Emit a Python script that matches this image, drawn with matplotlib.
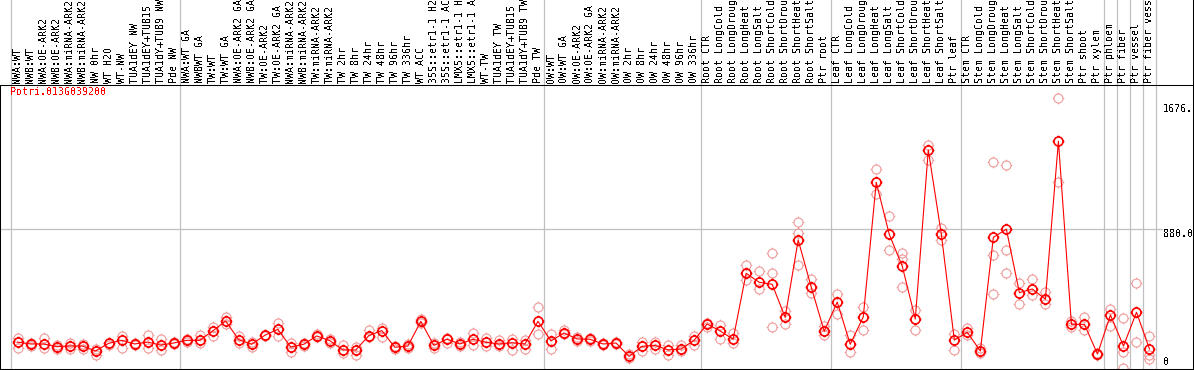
import numpy as np
import matplotlib.pyplot as plt
from matplotlib.path import Path
import matplotlib.transforms as mtransforms

# crisp, pixel-like text as in the original
plt.rcParams['text.antialiased'] = False

# gene shown in the chart
gene = "Potri.013G039200"

# sample names, left to right
samples = [
    "NWA:WT", "NWB:WT", "NWA:OE-ARK2", "NWB:OE-ARK2", "NWA:miRNA-ARK2", "NWB:miRNA-ARK2",
    "NW 0hr", "WT H2O", "WT-NW", "TUA1dEY NW", "TUA1dEY+TUB15 NW", "TUA1dY+TUB9 NW", "Pde NW",
    "NWA:WT GA", "NWBWT GA", "TW:WT", "TW:WT GA", "NWA:OE-ARK2 GA", "NWB:OE-ARK2 GA",
    "TW:OE-ARK2", "TW:OE-ARK2 GA", "NWA:miRNA-ARK2", "NWB:miRNA-ARK2", "TW:miRNA-ARK2",
    "TW:miRNA-ARK2", "TW 2hr", "TW 8hr", "TW 24hr", "TW 48hr", "TW 96hr", "TW 336hr", "WT ACC",
    "35S::etr1-1 H2O", "35S::etr1-1 ACC", "LMX5::etr1-1 H2O", "LMX5::etr1-1 ACC", "WT-TW",
    "TUA1dEY TW", "TUA1dEY+TUB15 TW", "TUA1dY+TUB9 TW", "Pde TW",
    "OW:WT", "OW:WT GA", "OW:OE-ARK2", "OW:OE-ARK2 GA", "OW:miRNA-ARK2", "OW:miRNA-ARK2",
    "OW 2hr", "OW 8hr", "OW 24hr", "OW 48hr", "OW 96hr", "OW 336hr",
    "Root CTR", "Root LongCold", "Root LongDrought", "Root LongHeat", "Root LongSalt",
    "Root ShortCold", "Root ShortDrought", "Root ShortHeat", "Root ShortSalt", "Ptr root",
    "Leaf CTR", "Leaf LongCold", "Leaf LongDrought", "Leaf LongHeat", "Leaf LongSalt",
    "Leaf ShortCold", "Leaf ShortDrought", "Leaf ShortHeat", "Leaf ShortSalt", "Ptr leaf",
    "Stem CTR", "Stem LongCold", "Stem LongDrought", "Stem LongHeat", "Stem LongSalt",
    "Stem ShortCold", "Stem ShortDrought", "Stem ShortHeat", "Stem ShortSalt", "Ptr shoot",
    "Ptr xylem", "Ptr phloem", "Ptr fiber", "Ptr vessel", "Ptr fiber vessel",
]

# mean expression per sample
means = [
    160, 148, 148, 131, 135, 135, 103, 152, 171, 148, 160, 141, 154,
    171, 171, 231, 294, 175, 146, 203, 241, 129, 146, 199, 169, 110, 110, 201,
    233, 127, 135, 292, 139, 178, 148, 178, 159, 148, 156, 148, 292,
    167, 218, 180, 178, 148, 154, 69, 133, 139, 110, 116, 171,
    275, 231, 178, 598, 541, 528, 318, 810, 511, 229,
    415, 146, 320, 1178, 846, 643, 307, 1383, 848, 173,
    222, 103, 827, 879, 475, 498, 433, 1439, 273, 273, 84,
    332, 135, 350, 116,
]

# individual replicates per sample
replicates = [
    [184, 120], [156, 137], [184, 120], [139, 116], [152, 116], [148, 116], [116, 78],
    [156, 141], [201, 124], [154, 141], [205, 124], [180, 112], [160, 148],
    [182, 159], [203, 156], [256, 201], [318, 273], [201, 152], [162, 131], [207, 199],
    [283, 201], [154, 95], [156, 135], [210, 191], [178, 152], [141, 89], [131, 76],
    [237, 191], [252, 191], [135, 114], [148, 120], [305, 283], [152, 120], [188, 154],
    [160, 137], [216, 144], [188, 133], [173, 133], [182, 112], [173, 114], [382, 212],
    [210, 114], [237, 210], [191, 169], [184, 169], [152, 141], [160, 148], [84, 61],
    [160, 103], [160, 118], [144, 78], [141, 101], [201, 141],
    [280, 258], [269, 178], [220, 152], [649, 555], [613, 496], [726, 598, 258],
    [358, 275], [923, 857, 649], [562, 471], [262, 205],
    [464, 337], [205, 99], [385, 235], [1262, 1105], [963, 746], [726, 689, 513],
    [364, 235], [1415, 1320], [885, 810], [212, 110],
    [252, 205], [120, 92], [1307, 715, 466], [1286, 746, 598], [535, 403], [562, 460],
    [481, 403], [1713, 1181], [296, 254], [318, 237], [92, 76],
    [373, 262], [315, 99, -7], [535, 159], [201, 78, 50],
]

# column index where each sample group starts (last entry = end)
group_edges = [0, 13, 41, 53, 63, 73, 84, 85, 86, 87, 88]

# labels on the right-hand side
scale_labels = ["1676.38", "880.00", "0"]
scale_values = [1676.38, 880.0, 0]

mono = "DejaVu Sans Mono"
fsize = 7.2
grey = "#c0c0c0"
pink = "#f09a9a"

# open circle with four small ticks, like the original markers
ring = Path.make_compound_path(
    Path.unit_circle(),
    Path([(0, 1), (0, 1.3), (0, -1), (0, -1.3), (1, 0), (1.3, 0), (-1, 0), (-1.3, 0)],
         [Path.MOVETO, Path.LINETO] * 4),
)

fig = plt.figure(figsize=(11.94, 3.70), dpi=100)
ax = fig.add_axes([0, 1 / 370, 1193 / 1194, 284 / 370])

n = len(samples)
col_w = 1145 / n
x0 = 11
ax.set_xlim(-x0 / col_w - 0.5, (1193 - x0) / col_w - 0.5)
ax.set_ylim(-11.5, 1797.5)
ax.set_xticks([])
ax.set_yticks([])
for s in ax.spines.values():
    s.set_linewidth(0.75)
    s.set_color("black")

# border of the label strip on the right
ax.plot([1, 1], [1, 1 + 86 / 284], transform=ax.transAxes, color="black",
        lw=0.75, clip_on=False)

# group separators run up through the label strip
for e in group_edges:
    ax.axvline(e - 0.5, ymin=0, ymax=1 + 86 / 284, color=grey, lw=0.9,
               clip_on=False, zorder=0)

ax.axhline(880, xmin=0, xmax=1162 / 1193, color=grey, lw=0.9, zorder=0)

# replicate points
rx = [i for i, r in enumerate(replicates) for _ in r]
ry = [v for r in replicates for v in r]
ax.plot(rx, ry, linestyle="none", marker=ring, ms=8.4, mfc="none", mec=pink, mew=0.8)

# means joined by a line
ax.plot(range(n), means, color="red", lw=0.8, marker=ring, ms=8.4, mfc="none",
        mec="red", mew=1.2)

# sample names, rotated
trans = mtransforms.blended_transform_factory(ax.transData, ax.transAxes)
for i, name in enumerate(samples):
    ax.text(i, 1 + 2 / 284, name, rotation=90, ha="center", va="bottom",
            transform=trans, fontfamily=mono, fontsize=fsize, clip_on=False)

# right-hand scale
xr = (1163 - x0) / col_w - 0.5
for lab, val in zip(scale_labels, scale_values):
    ax.text(xr, val, lab, ha="left", va="bottom" if val == 0 else "top",
            fontfamily=mono, fontsize=fsize, clip_on=True)

ax.text(-0.58, 1 - 2 / 284, gene, transform=trans, ha="left", va="top",
        color="red", fontfamily=mono, fontsize=fsize)

fig.savefig("out.png", dpi=100)
